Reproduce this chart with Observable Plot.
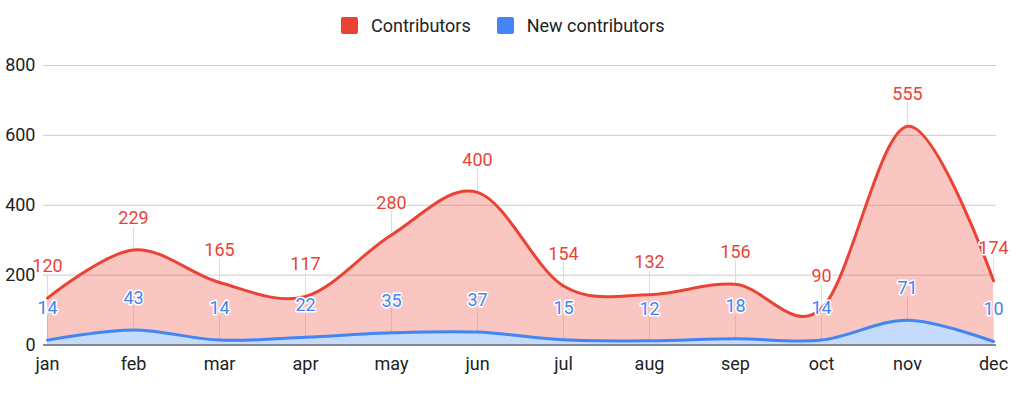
<!DOCTYPE html>
<html>
<head>
<meta charset="utf-8">
<script src="https://cdn.jsdelivr.net/npm/d3@7"></script>
<script src="https://cdn.jsdelivr.net/npm/@observablehq/plot@0.6"></script>
<style>
  html, body { margin: 0; padding: 0; background: #fff; }
  body { width: 1024px; height: 394px; overflow: hidden; font-family: Roboto, "Liberation Sans", Arial, sans-serif; }
  #legend { height: 50px; display: flex; align-items: center; padding-left: 341px; box-sizing: border-box; font-size: 18px; color: #222; }
  .item { display: flex; align-items: center; margin-right: 26px; }
  .sw { width: 17px; height: 17px; border-radius: 2px; margin-right: 13px; }
  #chart svg { display: block; }
</style>
</head>
<body>
<div id="legend"></div>
<div id="chart"></div>
<script>
const months = ["jan","feb","mar","apr","may","jun","jul","aug","sep","oct","nov","dec"];
const contributors = [120,229,165,117,280,400,154,132,156,90,555,174];
const newContributors = [14,43,14,22,35,37,15,12,18,14,71,10];
const seriesNames = ["Contributors","New contributors"];
const seriesColors = ["#ea4335","#4285f4"];
const yTicks = [0,200,400,600,800];

// long-format table; stacked order: New contributors at bottom
const data = months.flatMap((m, i) => [
  {month: m, series: "New contributors", value: newContributors[i], top: newContributors[i]},
  {month: m, series: "Contributors", value: contributors[i], top: newContributors[i] + contributors[i]}
]);

// legend
const legend = document.getElementById("legend");
seriesNames.forEach((s, i) => {
  const it = document.createElement("div");
  it.className = "item";
  const sw = document.createElement("div");
  sw.className = "sw";
  sw.style.background = seriesColors[i];
  const t = document.createElement("span");
  t.textContent = s;
  it.appendChild(sw); it.appendChild(t);
  legend.appendChild(it);
});

const chart = Plot.plot({
  width: 1024,
  height: 344,
  marginLeft: 43,
  marginRight: 28,
  marginTop: 15,
  marginBottom: 49.5,
  style: {fontFamily: 'Roboto, "Liberation Sans", Arial, sans-serif', fontSize: "18px", color: "#222", background: "#fff"},
  x: {type: "point", domain: months, padding: 0},
  y: {domain: [0, 800]},
  color: {domain: seriesNames, range: seriesColors},
  marks: [
    Plot.ruleY(yTicks.filter(d => d > 0), {stroke: "#cccccc", strokeWidth: 1}),
    Plot.ruleX(data, {x: "month", y1: "top", y2: d => d.top + 66, stroke: "#dddddd", strokeWidth: 1}),
    Plot.areaY(data, {x: "month", y: "value", z: "series", fill: "series", fillOpacity: 0.3, curve: "cardinal"}),
    Plot.line(data, {x: "month", y: "top", z: "series", stroke: "series", strokeWidth: 3, curve: "cardinal"}),
    Plot.ruleY([0], {stroke: "#5f6670", strokeWidth: 1.5}),
    Plot.text(data, {x: "month", y: "top", text: d => String(d.value), fill: "series", stroke: "white", strokeWidth: 3, paintOrder: "stroke", dy: -32, fontSize: 18}),
    Plot.axisY({ticks: yTicks, tickSize: 0, tickPadding: 8, label: null}),
    Plot.axisX({tickSize: 0, tickPadding: 12, label: null})
  ]
});
document.getElementById("chart").appendChild(chart);
</script>
</body>
</html>
